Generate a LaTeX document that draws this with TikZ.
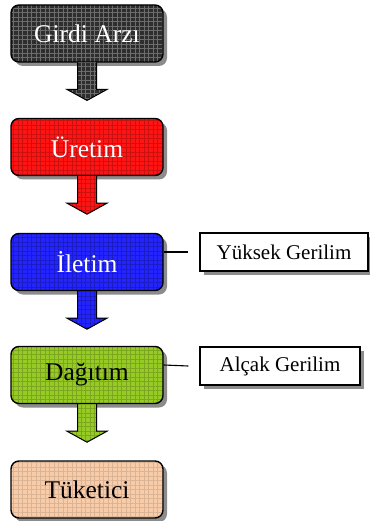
\documentclass[tikz,border=0pt]{standalone}
\usepackage{fontspec}
\setmainfont{Liberation Serif}
\usetikzlibrary{patterns.meta,shadows,calc}

\definecolor{cSupply}{HTML}{2E2E2E}
\definecolor{cGen}{HTML}{FF1414}
\definecolor{cTrans}{HTML}{2424FF}
\definecolor{cDist}{HTML}{96CA24}
\definecolor{cCons}{HTML}{F8CCA8}

\tikzset{
  texture/.style={pattern={Hatch[distance=4.5pt, angle=0, line width=0.9pt]}, pattern color=#1},
  stage/.style 2 args={draw=black, line width=1.4pt, rounded corners=8pt,
    minimum width=152pt, minimum height=57pt, inner sep=0pt,
    font=\fontsize{25.5}{30}\selectfont,
    drop shadow={shadow xshift=4pt, shadow yshift=-4pt, fill=black!45, opacity=1},
    preaction={fill=#1}, texture=#2},
  note/.style={draw=black, line width=1.4pt, fill=white, inner sep=0pt,
    minimum height=38pt, font=\fontsize{21}{25}\selectfont,
    drop shadow={shadow xshift=4pt, shadow yshift=-4pt, fill=black!45, opacity=1}},
  link/.style={draw=black, line width=1.1pt},
  pics/downarrow/.style 2 args={code={
    \path[fill=#1] (-9.5,0) -- (-9.5,27) -- (-20,27) -- (0,38) -- (20,27) -- (9.5,27) -- (9.5,0) -- cycle;
    \path[texture=#2] (-9.5,0) -- (-9.5,27) -- (-20,27) -- (0,38) -- (20,27) -- (9.5,27) -- (9.5,0) -- cycle;
    \draw[line width=1pt, line join=miter] (-9.5,0) -- (-9.5,27) -- (-20,27) -- (0,38) -- (20,27) -- (9.5,27) -- (9.5,0);
  }}
}

\begin{document}
\begin{tikzpicture}[x=1pt, y=-1pt]
  \useasboundingbox (0,0) rectangle (369,521);

  % stages of the supply chain
  \node[stage={cSupply}{white!30!cSupply}, text=white] (supply) at (87,33.5) {Girdi Arzı};
  \node[stage={cGen}{cGen!80!black}, text=white] (gen) at (87,147) {Üretim};
  \node[stage={cTrans}{cTrans!78!black}, text=white] (trans) at (87,262) {İletim};
  \node[stage={cDist}{cDist!82!black}, text=black] (dist) at (87,375) {Dağıtım};
  \node[stage={cCons}{cCons!88!black}, text=black] (cons) at (87,489.5) {Tüketici};

  % flow arrows between stages
  \pic at (supply.south) {downarrow={cSupply}{white!30!cSupply}};
  \pic at (gen.south) {downarrow={cGen}{cGen!80!black}};
  \pic at (trans.south) {downarrow={cTrans}{cTrans!78!black}};
  \pic at (dist.south) {downarrow={cDist}{cDist!82!black}};

  % voltage level notes
  \node[note, minimum width=168pt] (hv) at (284,252) {Yüksek Gerilim};
  \node[note, minimum width=160pt] (lv) at (280,366) {Alçak Gerilim};

  \coordinate (hvend) at ($(hv.west)+(-11,0)$);
  \coordinate (lvend) at ($(lv.west)+(-11,0)$);
  \draw[link] (trans.east) ++(0,-10) -- (hvend);
  \draw[link] (dist.east) ++(0,-10) -- (lvend);
\end{tikzpicture}
\end{document}
